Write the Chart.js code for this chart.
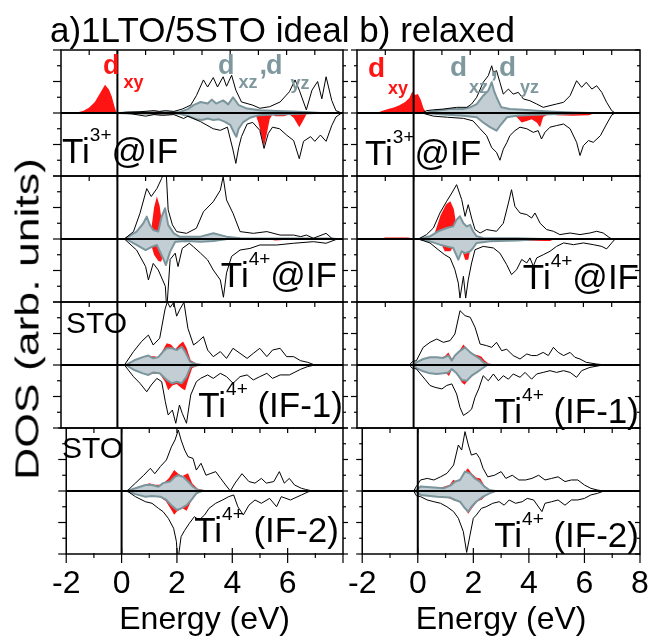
<!DOCTYPE html>
<html>
<head>
<meta charset="utf-8">
<script src="https://cdn.jsdelivr.net/npm/chart.js@4.4.1/dist/chart.umd.min.js"></script>
<style>
  body { margin: 0; background: #fff; }
  #fig { position: relative; width: 670px; height: 642px; overflow: hidden; font-family: "Liberation Sans", Arial, sans-serif; }
  #fig canvas { position: absolute; }
  .lbl { position: absolute; white-space: nowrap; line-height: 1; color: #000; }
  .sup { font-size: 19px; position: relative; top: -22px; }
  .sub { font-size: 18px; position: relative; top: 14px; }
  #ylab { position: absolute; left: 27px; top: 319px; font-size: 33px; line-height: 1; white-space: nowrap;
          transform: translate(-50%, -50%) rotate(-90deg) scaleX(1.35); }
</style>
</head>
<body>
<div id="fig"></div>
<script>
// energies in eV, DOS in arb. units (spin up > 0, spin down < 0)
// a) ideal, Ti3+ @IF
const a1TotUp = [[-2,0],[0,0],[0.3,0.05],[0.8,0.08],[1.3,0.15],[1.5,0.1],[1.7,0.15],[2.0,0.1],[2.3,0.25],[2.6,0.5],[2.8,1.1],[3.05,2.1],[3.2,1.65],[3.4,2.25],[3.55,1.65],[3.75,2.3],[3.87,1.7],[4.05,2.4],[4.2,1.45],[4.4,0.7],[4.8,0.5],[5.05,0.3],[5.4,0.4],[5.77,0.7],[6.1,1.35],[6.3,2.1],[6.45,1.45],[6.7,0.2],[6.9,1.45],[7.1,2.0],[7.25,0.9],[7.4,2.3],[7.6,0.8],[7.75,0.15],[7.95,0],[8,0]];
const a1TotDn = [[-2,0],[0,0],[0.5,-0.05],[1.0,-0.2],[1.3,-0.1],[1.6,-0.15],[2.0,-0.1],[2.35,-0.35],[2.5,-0.2],[2.95,-0.55],[3.4,-1.0],[3.65,-1.1],[3.9,-0.9],[4.1,-2.35],[4.2,-3.2],[4.3,-2.2],[4.4,-1.5],[4.6,-0.7],[4.8,-0.6],[5.05,-1.1],[5.2,-2.25],[5.35,-1.3],[5.5,-0.9],[5.75,-1.0],[6.0,-1.4],[6.25,-1.75],[6.45,-2.9],[6.6,-1.8],[6.85,-1.5],[7.0,-1.8],[7.2,-1.4],[7.4,-1.8],[7.6,-0.8],[7.75,-0.25],[7.95,0],[8,0]];
const a1XzUp = [[0,0],[0.5,0.03],[1.5,0.05],[2.2,0.05],[2.5,0.25],[2.7,0.5],[2.95,0.7],[3.2,0.6],[3.35,0.85],[3.5,0.6],[3.75,0.8],[3.93,0.55],[4.1,1.0],[4.3,0.5],[4.6,0.28],[5.05,0.17],[5.65,0.13],[6.25,0.1],[6.8,0.05],[7.2,0]];
const a1XzDn = [[0,0],[0.5,-0.03],[1.5,-0.05],[2.2,-0.05],[2.5,-0.2],[2.8,-0.4],[3.0,-0.45],[3.2,-0.35],[3.4,-0.45],[3.6,-0.4],[3.8,-0.55],[4.0,-0.75],[4.15,-1.3],[4.22,-1.5],[4.3,-1.0],[4.45,-0.6],[4.7,-0.3],[5.0,-0.15],[5.6,-0.1],[6.5,-0.05],[7.0,0]];
const a1XyUp = [[-1.7,0],[-1.4,0.05],[-1.2,0.15],[-1.0,0.35],[-0.8,0.7],[-0.6,1.3],[-0.44,1.8],[-0.3,1.5],[-0.2,1.05],[-0.1,0.4],[-0.03,0],[1.2,0],[1.35,0.1],[1.5,0.12],[1.65,0.05],[1.8,0]];
const a1XyDn = [[1.0,0],[1.2,-0.08],[1.6,-0.1],[1.9,0],[4.8,0],[4.9,-0.1],[5.0,-0.6],[5.1,-1.4],[5.2,-2.15],[5.3,-1.3],[5.4,-0.4],[5.5,-0.1],[5.6,-0.2],[5.9,-0.2],[6.1,-0.1],[6.25,-0.3],[6.35,-0.6],[6.45,-0.9],[6.55,-0.6],[6.7,-0.1],[6.8,0]];

// a) ideal, Ti4+ @IF
const a2TotUp = [[-2,0],[0.25,0],[0.57,0.47],[0.8,1.63],[1.04,3.2],[1.2,2.7],[1.4,3.2],[1.57,3.85],[1.72,4.6],[1.8,1.85],[1.95,0.9],[2.1,0.47],[2.45,0.36],[2.8,0.68],[3.05,1.73],[3.4,2.37],[3.65,3.1],[3.75,3.96],[3.87,2.48],[4.1,1.63],[4.35,0.47],[4.82,0.36],[5.3,0.47],[5.77,0.25],[6.25,0.25],[6.5,0.15],[6.7,0.25],[6.95,0.05],[7.4,0.36],[7.6,0.05],[7.8,0],[8,0]];
const a2TotDn = [[-2,0],[0.25,0],[0.68,-0.7],[1.0,-1.75],[1.1,-2.6],[1.27,-1.55],[1.45,-1.97],[1.7,-3.0],[1.75,-4.5],[1.87,-1.3],[2.05,-0.9],[2.15,-1.75],[2.3,-0.6],[2.55,-0.27],[2.7,-0.5],[2.95,-0.9],[3.2,-1.33],[3.4,-1.97],[3.65,-2.6],[3.76,-3.7],[3.87,-2.15],[4.05,-1.1],[4.35,-0.7],[4.7,-0.6],[5.05,-0.38],[5.65,-0.38],[6.25,-0.27],[6.95,-0.17],[7.4,-0.27],[7.8,0],[8,0]];
const a2XzUp = [[0.25,0],[0.68,0.47],[0.92,1.0],[1.04,1.42],[1.15,0.9],[1.27,0.57],[1.45,0.47],[1.57,1.42],[1.69,1.95],[1.8,0.9],[2.0,0.36],[2.2,0.15],[2.95,0.15],[3.4,0.36],[3.87,0.15],[4.35,0.05],[6.0,0.03],[7.5,0.03],[7.8,0]];
const a2XzDn = [[0.3,0],[0.68,-0.38],[1.0,-0.7],[1.22,-0.5],[1.4,-0.38],[1.62,-1.23],[1.72,-1.65],[1.87,-0.8],[2.05,-0.17],[2.45,-0.12],[2.95,-0.17],[3.4,-0.12],[3.9,0]];
const a2XyUp = [[-1.2,0],[-1.0,0.05],[-0.5,0.05],[-0.3,0],[1.1,0],[1.2,0.6],[1.3,2.0],[1.4,2.7],[1.5,2.1],[1.58,1.0],[1.7,0.3],[1.9,0]];
const a2XyDn = [[1.1,0],[1.2,-0.4],[1.3,-1.0],[1.45,-1.4],[1.55,-1.45],[1.65,-0.9],[1.75,-0.3],[1.9,0],[2.2,-0.1],[2.4,-0.2],[2.6,-0.1],[2.9,0],[5.3,0],[5.6,-0.1],[6.0,-0.05],[6.3,0]];

// a) ideal, Ti4+ (IF-1)
const a3TotUp = [[-2,0],[0.25,0],[0.57,0.85],[0.86,1.5],[1.1,1.9],[1.27,1.27],[1.5,1.7],[1.69,3.55],[1.77,4.0],[1.87,3.66],[2.0,3.98],[2.1,3.1],[2.22,3.55],[2.36,3.98],[2.5,2.33],[2.7,1.27],[2.87,1.5],[3.05,1.8],[3.2,0.95],[3.4,0.53],[3.65,0.85],[3.87,0.42],[4.1,1.06],[4.35,0.74],[4.6,0.42],[4.82,0.74],[5.05,1.06],[5.3,0.53],[5.5,0.95],[5.77,1.06],[6.0,0.53],[6.25,0.53],[6.5,0.27],[6.75,0.17],[7.0,0],[8,0]];
const a3TotDn = [[-2,0],[0.25,0],[0.57,-0.74],[0.8,-1.16],[1.04,-1.7],[1.2,-1.27],[1.4,-0.85],[1.57,-1.06],[1.7,-2.33],[1.8,-3.17],[1.95,-2.86],[2.07,-3.7],[2.2,-2.54],[2.3,-3.07],[2.45,-3.7],[2.6,-1.9],[2.8,-1.06],[2.95,-0.85],[3.2,-0.63],[3.4,-0.85],[3.65,-0.53],[3.87,-0.74],[4.1,-1.16],[4.35,-0.74],[4.6,-0.63],[4.82,-0.95],[5.05,-0.74],[5.3,-0.53],[5.5,-0.85],[5.77,-0.63],[6.1,-0.63],[6.5,-0.27],[6.75,-0.1],[7.0,0],[8,0]];
const a3XzUp = [[0.3,0],[0.6,0.3],[0.9,0.5],[1.1,0.6],[1.27,0.42],[1.45,0.5],[1.62,0.85],[1.75,1.06],[1.93,1.06],[2.1,0.95],[2.28,1.16],[2.4,0.85],[2.58,0.2],[2.8,0.05],[3.0,0]];
const a3XzDn = [[0.3,0],[0.6,-0.32],[0.9,-0.53],[1.1,-0.63],[1.27,-0.47],[1.5,-0.53],[1.75,-0.95],[1.93,-1.16],[2.1,-1.06],[2.28,-1.16],[2.45,-0.74],[2.6,-0.1],[2.9,0]];
const a3XyUp = [[0.3,0],[0.6,0.25],[0.9,0.45],[1.1,0.55],[1.3,0.55],[1.45,0.5],[1.6,0.9],[1.75,1.38],[1.9,1.3],[2.05,1.0],[2.2,1.3],[2.33,1.5],[2.45,1.1],[2.6,0.3],[2.8,0.1],[3.0,0.05],[3.3,0],[4.5,0],[5.0,0.05],[6.5,0.05],[6.8,0]];
const a3XyDn = [[0.3,0],[0.6,-0.3],[0.9,-0.5],[1.1,-0.6],[1.27,-0.55],[1.5,-0.55],[1.7,-1.1],[1.8,-1.6],[1.95,-1.3],[2.1,-1.2],[2.3,-1.5],[2.4,-1.6],[2.5,-1.0],[2.65,-0.2],[2.9,0]];

// a) ideal, Ti4+ (IF-2)
const a4TotUp = [[-2,0],[0.2,0],[0.5,0.5],[0.8,1.0],[1.04,1.44],[1.2,1.1],[1.4,1.55],[1.62,1.97],[1.8,2.8],[1.93,3.24],[2.05,3.87],[2.15,3.24],[2.28,2.6],[2.4,2.18],[2.58,2.07],[2.7,1.33],[2.87,1.76],[3.05,1.0],[3.2,1.1],[3.4,1.23],[3.58,0.8],[3.76,0.38],[3.93,0],[4.1,0.5],[4.35,1.1],[4.6,0.6],[4.82,0.5],[5.05,0.8],[5.23,0.5],[5.5,0.6],[5.7,1.23],[5.88,0.5],[6.06,0.8],[6.25,0.38],[6.5,0.17],[6.65,0.1],[6.9,0],[8,0]];
const a4TotDn = [[-2,0],[0.2,0],[0.5,-0.36],[0.86,-0.68],[1.1,-0.78],[1.33,-1.1],[1.5,-1.31],[1.69,-1.74],[1.88,-2.37],[1.98,-3.2],[2.03,-4.5],[2.15,-2.9],[2.28,-2.5],[2.45,-2.05],[2.63,-1.63],[2.8,-1.84],[3.0,-1.52],[3.16,-1.1],[3.4,-0.78],[3.65,-0.57],[3.87,-0.36],[4.05,-0.25],[4.2,-1.0],[4.4,-1.52],[4.6,-0.9],[4.82,-0.57],[5.05,-0.78],[5.35,-0.47],[5.6,-1.0],[5.77,-0.36],[6.1,-0.57],[6.5,-0.25],[6.75,-0.05],[6.9,0],[8,0]];
const a4XzUp = [[0.2,0],[0.5,0.17],[0.86,0.38],[1.1,0.38],[1.33,0.27],[1.5,0.5],[1.75,0.6],[1.93,0.9],[2.05,1.0],[2.22,0.9],[2.4,0.6],[2.58,0.27],[2.76,0.06],[3.0,0]];
const a4XzDn = [[0.2,0],[0.5,-0.2],[0.86,-0.36],[1.1,-0.32],[1.4,-0.36],[1.62,-0.57],[1.8,-0.9],[2.0,-1.2],[2.15,-1.1],[2.35,-0.9],[2.52,-0.57],[2.7,-0.15],[2.9,0]];
const a4XyUp = [[0.2,0],[0.5,0.15],[0.8,0.35],[1.0,0.5],[1.2,0.4],[1.45,0.4],[1.7,0.8],[1.9,1.33],[2.05,1.1],[2.2,0.95],[2.4,1.12],[2.55,0.5],[2.75,0.15],[3.0,0.05],[3.3,0]];
const a4XyDn = [[0.2,0],[0.5,-0.2],[0.8,-0.35],[1.1,-0.35],[1.4,-0.4],[1.6,-0.65],[1.8,-1.2],[1.9,-1.5],[2.0,-1.3],[2.2,-1.1],[2.35,-1.25],[2.5,-0.7],[2.7,-0.2],[2.9,0]];

// b) relaxed, Ti3+ @IF
const b1TotUp = [[-2,0],[0.3,0],[0.46,0.15],[0.7,0.2],[1.05,0.25],[1.52,0.36],[1.88,0.36],[2.05,0.57],[2.23,1.0],[2.46,1.95],[2.64,2.37],[2.76,3.0],[2.82,2.58],[2.93,2.69],[3.05,1.95],[3.17,1.2],[3.35,1.52],[3.52,1.2],[3.7,1.31],[3.88,0.89],[4.11,0.78],[4.35,0.57],[4.58,0.36],[4.82,0.47],[5.05,0.57],[5.3,0.68],[5.53,1.1],[5.76,2.05],[5.94,1.63],[6.1,1.95],[6.3,1.52],[6.47,1.73],[6.65,1.31],[6.82,0.68],[7.0,0.15],[7.12,0],[8,0]];
const b1TotDn = [[-2,0],[0.3,0],[0.7,-0.2],[1.2,-0.27],[1.76,-0.34],[2.1,-0.5],[2.35,-1.0],[2.58,-1.44],[2.76,-2.2],[2.93,-2.5],[3.05,-3.0],[3.17,-2.3],[3.3,-1.86],[3.4,-1.44],[3.58,-1.12],[3.76,-0.9],[4.0,-1.0],[4.23,-1.23],[4.4,-1.12],[4.52,-1.65],[4.64,-1.23],[4.82,-0.9],[5.05,-0.8],[5.3,-0.7],[5.53,-1.0],[5.76,-1.86],[5.88,-2.7],[6.0,-2.07],[6.18,-1.75],[6.35,-1.86],[6.6,-1.44],[6.82,-0.7],[7.0,-0.13],[7.12,0],[8,0]];
const b1XzUp = [[0.4,0],[0.8,0.15],[1.3,0.25],[1.76,0.25],[2.0,0.36],[2.23,0.57],[2.46,1.1],[2.64,1.42],[2.76,1.95],[2.84,1.42],[2.93,1.0],[3.1,0.36],[3.4,0.25],[3.88,0.2],[4.35,0.15],[4.8,0.1],[5.4,0.05],[6.2,0]];
const b1XzDn = [[0.4,0],[1.05,-0.1],[1.76,-0.17],[2.23,-0.27],[2.46,-0.6],[2.7,-0.9],[2.93,-1.12],[3.1,-0.7],[3.3,-0.27],[3.64,-0.17],[4.11,-0.13],[4.82,-0.08],[6.0,0]];
const b1XyUp = [[-1.3,0],[-1.1,0.15],[-0.9,0.25],[-0.7,0.35],[-0.5,0.5],[-0.3,0.7],[-0.15,0.95],[-0.05,1.35],[0.05,1.15],[0.15,1.2],[0.25,0.85],[0.35,0.3],[0.45,0],[1.0,0],[1.1,0.2],[1.3,0.22],[1.5,0.25],[1.65,0.1],[1.8,0]];
const b1XyDn = [[1.0,0],[1.1,-0.12],[1.6,-0.12],[1.8,0],[3.5,0],[3.64,-0.25],[3.82,-0.6],[4.0,-0.5],[4.17,-0.4],[4.35,-0.6],[4.47,-0.9],[4.58,-0.25],[4.8,-0.05],[5.05,-0.15],[5.6,-0.18],[6.2,-0.15],[6.4,0]];

// b) relaxed, Ti4+ @IF
const b2TotUp = [[-2,0],[0.17,0],[0.46,0.28],[0.7,0.7],[0.93,1.65],[1.17,2.4],[1.35,2.92],[1.52,3.45],[1.7,2.5],[1.82,1.44],[1.93,2.18],[2.05,1.33],[2.17,0.6],[2.35,0.38],[2.58,0.6],[2.93,0.49],[3.17,1.0],[3.35,2.28],[3.46,3.13],[3.58,2.07],[3.76,1.65],[4.0,1.55],[4.17,1.33],[4.29,1.65],[4.47,1.0],[4.7,0.6],[4.94,0.49],[5.17,0.28],[5.53,0.38],[5.88,0.28],[6.23,0.38],[6.47,0.49],[6.7,0.38],[6.94,0.06],[7.05,0],[8,0]];
const b2TotDn = [[-2,0],[0.17,0],[0.58,-0.25],[0.87,-0.68],[1.1,-1.0],[1.29,-1.2],[1.46,-1.95],[1.58,-2.8],[1.64,-3.75],[1.76,-2.37],[1.84,-3.75],[1.93,-2.6],[2.05,-1.52],[2.17,-0.68],[2.46,-0.47],[2.82,-0.57],[3.05,-0.9],[3.29,-1.63],[3.46,-2.26],[3.64,-1.95],[3.82,-1.3],[4.0,-1.52],[4.11,-1.2],[4.23,-1.73],[4.35,-1.2],[4.58,-1.0],[4.82,-0.78],[5.05,-0.47],[5.3,-0.25],[5.65,-0.36],[6.0,-0.25],[6.35,-0.36],[6.65,-0.47],[6.82,-0.63],[7.0,-0.25],[7.12,0],[8,0]];
const b2XzUp = [[0.2,0],[0.58,0.17],[0.87,0.49],[1.17,0.7],[1.4,0.8],[1.52,1.23],[1.64,1.44],[1.76,1.0],[1.88,0.8],[2.0,0.9],[2.1,0.49],[2.23,0.17],[2.46,0.06],[3.64,0.04],[4.6,0]];
const b2XzDn = [[0.2,0],[0.58,-0.15],[0.93,-0.36],[1.17,-0.47],[1.4,-0.57],[1.58,-1.31],[1.7,-0.78],[1.82,-0.9],[2.0,-0.78],[2.1,-0.57],[2.23,-0.25],[2.7,-0.15],[3.64,-0.1],[4.6,0]];
const b2XyUp = [[-1.2,0],[-1.0,0.1],[-0.2,0.1],[0.05,0.02],[0.5,0.1],[0.75,0.4],[0.95,1.5],[1.15,2.2],[1.3,2.4],[1.42,1.9],[1.5,1.0],[1.6,0.4],[1.8,0.2],[2.0,0]];
const b2XyDn = [[0.8,0],[1.0,-0.4],[1.1,-0.78],[1.3,-0.78],[1.4,-0.5],[1.7,-0.6],[1.82,-1.31],[1.93,-1.31],[2.0,-0.7],[2.2,-0.2],[2.35,-0.12],[4.82,-0.12],[5.0,0]];

// b) relaxed, Ti4+ (IF-1)
const b3TotUp = [[-2,0],[-0.15,0],[-0.05,0.2],[0.1,0.28],[0.34,1.12],[0.58,1.44],[0.82,1.65],[1.05,1.44],[1.29,1.55],[1.46,1.97],[1.64,3.45],[1.82,3.13],[2.0,3.03],[2.17,2.4],[2.35,1.33],[2.58,1.23],[2.76,1.12],[2.93,1.44],[3.11,0.91],[3.29,1.0],[3.52,0.6],[3.76,0.38],[4.0,0.7],[4.17,0.6],[4.35,0.6],[4.58,0.8],[4.76,0.6],[4.94,1.12],[5.11,0.8],[5.3,0.6],[5.53,0.8],[5.7,0.49],[5.88,0.38],[6.1,0.17],[6.47,0.06],[6.82,0],[8,0]];
const b3TotDn = [[-2,0],[-0.15,0],[-0.05,-0.2],[0.1,-0.25],[0.4,-0.9],[0.58,-1.3],[0.76,-1.42],[1.0,-1.52],[1.17,-1.3],[1.35,-1.2],[1.52,-1.84],[1.64,-2.7],[1.76,-3.2],[1.93,-3.0],[2.05,-2.8],[2.17,-2.05],[2.3,-1.52],[2.46,-0.68],[2.64,-1.0],[2.82,-0.57],[3.0,-1.0],[3.17,-0.68],[3.35,-0.9],[3.52,-0.57],[3.76,-0.78],[3.94,-0.47],[4.17,-0.9],[4.35,-0.57],[4.58,-0.47],[4.82,-0.36],[5.05,-0.47],[5.3,-0.36],[5.53,-0.47],[5.76,-0.78],[5.94,-0.36],[6.23,-0.15],[6.7,0],[8,0]];
const b3XzUp = [[0.0,0],[0.1,0.17],[0.34,0.38],[0.58,0.49],[0.82,0.49],[1.05,0.45],[1.23,0.6],[1.35,0.28],[1.46,0.6],[1.64,0.9],[1.82,1.12],[2.0,0.8],[2.17,0.6],[2.35,0.38],[2.46,0.17],[2.6,0.05],[2.8,0]];
const b3XzDn = [[0.0,0],[0.1,-0.2],[0.34,-0.4],[0.58,-0.53],[0.82,-0.57],[1.05,-0.53],[1.23,-0.47],[1.35,-0.25],[1.52,-0.53],[1.7,-0.95],[1.88,-1.0],[2.05,-0.68],[2.23,-0.47],[2.4,-0.25],[2.6,0]];
const b3XyUp = [[0.0,0],[0.1,0.1],[0.5,0.4],[0.9,0.45],[1.1,0.55],[1.23,0.8],[1.35,0.4],[1.5,0.6],[1.65,1.0],[1.76,1.3],[1.9,1.0],[2.1,0.7],[2.3,0.6],[2.4,0.53],[2.5,0.3],[2.65,0.1],[2.8,0]];
const b3XyDn = [[0.0,0],[0.1,-0.1],[0.5,-0.4],[0.9,-0.5],[1.1,-0.45],[1.25,-0.7],[1.35,-0.3],[1.5,-0.5],[1.7,-1.1],[1.8,-1.25],[1.95,-0.9],[2.2,-0.5],[2.45,-0.15],[2.6,0]];

// b) relaxed, Ti4+ (IF-2)
const b4TotUp = [[-2,0],[-0.15,0],[-0.05,0.3],[0.1,0.7],[0.34,0.8],[0.58,0.7],[0.82,0.9],[1.05,1.12],[1.29,1.65],[1.46,2.92],[1.58,2.6],[1.7,3.77],[1.82,2.92],[1.93,2.28],[2.11,2.39],[2.23,2.07],[2.35,1.44],[2.52,0.9],[2.76,1.0],[3.0,1.23],[3.17,0.8],[3.4,1.0],[3.64,0.7],[3.88,0.7],[4.11,0.8],[4.35,1.0],[4.58,0.7],[4.82,0.8],[5.05,0.9],[5.3,0.6],[5.53,0.7],[5.76,0.7],[6.0,0.38],[6.23,0.17],[6.47,0.06],[6.7,0],[8,0]];
const b4TotDn = [[-2,0],[-0.15,0],[-0.05,-0.3],[0.1,-0.36],[0.34,-0.57],[0.58,-0.68],[0.82,-0.78],[1.05,-1.0],[1.29,-1.31],[1.46,-1.73],[1.64,-2.58],[1.76,-3.9],[1.88,-2.8],[2.0,-1.73],[2.11,-1.52],[2.29,-1.1],[2.46,-1.0],[2.7,-0.78],[2.93,-0.68],[3.11,-0.9],[3.29,-0.57],[3.52,-0.78],[3.76,-0.68],[3.94,-0.47],[4.17,-0.57],[4.47,-1.31],[4.58,-0.78],[4.82,-0.68],[5.05,-0.57],[5.3,-0.9],[5.53,-0.57],[5.76,-0.57],[6.0,-0.47],[6.23,-0.25],[6.47,-0.15],[6.7,0],[8,0]];
const b4XzUp = [[-0.1,0],[0.1,0.28],[0.58,0.22],[0.93,0.17],[1.17,0.34],[1.35,0.6],[1.52,0.7],[1.7,1.23],[1.88,1.12],[2.05,0.8],[2.23,0.6],[2.4,0.28],[2.58,0.06],[2.8,0]];
const b4XzDn = [[-0.1,0],[0.1,-0.25],[0.7,-0.36],[1.17,-0.42],[1.35,-0.57],[1.52,-0.68],[1.7,-1.1],[1.82,-1.31],[1.93,-1.0],[2.1,-0.68],[2.35,-0.36],[2.58,-0.15],[2.8,0]];
const b4XyUp = [[-0.1,0],[0.1,0.2],[0.5,0.2],[0.9,0.25],[1.15,0.4],[1.28,0.72],[1.38,0.6],[1.55,0.8],[1.7,1.2],[1.8,1.45],[1.95,1.1],[2.1,0.85],[2.25,0.8],[2.4,0.35],[2.6,0.05],[2.8,0]];
const b4XyDn = [[-0.1,0],[0.1,-0.25],[0.5,-0.35],[1.0,-0.4],[1.2,-0.5],[1.3,-0.6],[1.5,-0.65],[1.7,-1.15],[1.82,-1.45],[1.95,-1.1],[2.15,-0.65],[2.3,-0.55],[2.5,-0.2],[2.7,0]];

const energyTicks = [-2, 0, 2, 4, 6, 8];

const RED = "#ff1414";
const GRAY_FILL = "#c3ced4";
const GRAY_LINE = "#7b959c";
const GRAY_TEXT = "#7f989e";

const COLS = [{ left: 61, width: 282 }, { left: 357, width: 283 }];
const ROW_TOPS = [50, 176, 302, 428];
const ROW_H = 126;
const M = 20;
const AXIS_H = 85;

const panels = [
  [a1TotUp, a1TotDn, a1XzUp, a1XzDn, a1XyUp, a1XyDn],
  [a2TotUp, a2TotDn, a2XzUp, a2XzDn, a2XyUp, a2XyDn],
  [a3TotUp, a3TotDn, a3XzUp, a3XzDn, a3XyUp, a3XyDn],
  [a4TotUp, a4TotDn, a4XzUp, a4XzDn, a4XyUp, a4XyDn],
  [b1TotUp, b1TotDn, b1XzUp, b1XzDn, b1XyUp, b1XyDn],
  [b2TotUp, b2TotDn, b2XzUp, b2XzDn, b2XyUp, b2XyDn],
  [b3TotUp, b3TotDn, b3XzUp, b3XzDn, b3XyUp, b3XyDn],
  [b4TotUp, b4TotDn, b4XzUp, b4XzDn, b4XyUp, b4XyDn],
];

const toPoints = (pairs) => pairs.map(([x, y]) => ({ x, y }));

function strokeLine(ctx, x1, y1, x2, y2) {
  ctx.beginPath();
  ctx.moveTo(x1, y1);
  ctx.lineTo(x2, y2);
  ctx.stroke();
}

// frame, zero line, Fermi line and the tick marks of each panel
const framePlugin = {
  id: "frame",
  afterDraw(chart, args, opts) {
    const { ctx, chartArea: a } = chart;
    const x = chart.scales.x;
    const y = chart.scales.y;
    ctx.save();
    ctx.strokeStyle = "#000";
    ctx.lineCap = "butt";

    ctx.lineWidth = 2;
    const y0 = y.getPixelForValue(0);
    strokeLine(ctx, a.left, y0, a.right, y0);
    const xF = x.getPixelForValue(0);
    strokeLine(ctx, xF, a.top, xF, a.bottom);

    ctx.lineWidth = 1.5;
    ctx.strokeRect(a.left, a.top, a.right - a.left, a.bottom - a.top);

    ctx.lineWidth = 1.2;
    for (let e = -1; e <= 7; e += 1) {
      const px = x.getPixelForValue(e);
      strokeLine(ctx, px, a.top, px, a.top + 5);
      if (opts.bottom) {
        if (e % 2 === 0) strokeLine(ctx, px, a.bottom - 6, px, a.bottom + 9);
        else strokeLine(ctx, px, a.bottom - 1, px, a.bottom + 4);
      }
    }
    if (opts.bottom) {
      for (const e of [-2, 8]) {
        const px = x.getPixelForValue(e);
        strokeLine(ctx, px, a.bottom, px, a.bottom + 9);
      }
    }

    for (let v = -4; v <= 4; v += 1) {
      const py = y.getPixelForValue(v);
      const major = v % 2 === 0;
      if (opts.col === 0) {
        strokeLine(ctx, a.left - (major ? 8 : 4), py, a.left, py);
        strokeLine(ctx, a.right, py, a.right + (major ? 5 : 3), py);
      } else {
        strokeLine(ctx, a.left - (major ? 6 : 3), py, a.left, py);
        strokeLine(ctx, a.right - (major ? 5 : 3), py, a.right, py);
      }
    }
    ctx.restore();
  },
};

const fig = document.getElementById("fig");

function makePanel(col, row, series) {
  const [totUp, totDn, xzUp, xzDn, xyUp, xyDn] = series;
  const c = COLS[col];
  const bottom = row === 3;
  const canvas = document.createElement("canvas");
  canvas.width = c.width + 2 * M;
  canvas.height = ROW_H + M + (bottom ? AXIS_H : M);
  canvas.style.left = c.left - M + "px";
  canvas.style.top = ROW_TOPS[row] - M + "px";
  fig.appendChild(canvas);

  const redSet = (d) => ({ data: toPoints(d), borderWidth: 0, backgroundColor: RED, fill: "origin", order: 3 });
  const graySet = (d) => ({ data: toPoints(d), borderWidth: 2, borderColor: GRAY_LINE, backgroundColor: GRAY_FILL, fill: "origin", order: 2 });
  const totSet = (d) => ({ data: toPoints(d), borderWidth: 1, borderColor: "#000", fill: false, order: 1 });

  new Chart(canvas, {
    type: "line",
    data: {
      datasets: [totSet(totUp), totSet(totDn), graySet(xzUp), graySet(xzDn), redSet(xyUp), redSet(xyDn)],
    },
    options: {
      responsive: false,
      animation: false,
      devicePixelRatio: 1,
      events: [],
      layout: { padding: { left: M, right: M, top: M, bottom: bottom ? 0 : M } },
      elements: {
        point: { radius: 0 },
        line: { tension: 0, borderJoinStyle: "round" },
      },
      plugins: {
        legend: { display: false },
        tooltip: { enabled: false },
        frame: { col, bottom },
      },
      scales: {
        x: {
          type: "linear",
          min: -2,
          max: 8,
          display: bottom,
          afterFit: (s) => { if (bottom) s.height = AXIS_H; },
          afterBuildTicks: (s) => { s.ticks = energyTicks.map((v) => ({ value: v })); },
          grid: { display: false, drawTicks: false },
          border: { display: false },
          ticks: {
            padding: 11,
            color: "#000",
            maxRotation: 0,
            autoSkip: false,
            font: { family: "Liberation Sans", size: 32 },
            callback: (v) => (col === 0 && v === 8 ? "" : String(v)),
          },
          title: {
            display: true,
            text: "Energy (eV)",
            color: "#000",
            padding: 0,
            font: { family: "Liberation Sans", size: 32 },
          },
        },
        y: {
          type: "linear",
          min: -4,
          max: 4,
          display: false,
        },
      },
    },
    plugins: [framePlugin],
  });
}

panels.forEach((series, i) => makePanel(Math.floor(i / 4), i % 4, series));

function addLabel(html, pos) {
  const d = document.createElement("div");
  d.className = "lbl";
  d.style.fontSize = pos.size + "px";
  d.style.top = pos.base - 0.8465 * pos.size + "px";
  if (pos.right !== undefined) d.style.right = 670 - pos.right + "px";
  else d.style.left = pos.left + "px";
  if (pos.color) d.style.color = pos.color;
  if (pos.bold) d.style.fontWeight = "bold";
  d.innerHTML = html;
  fig.appendChild(d);
}

addLabel("a)1LTO/5STO ideal b) relaxed", { left: 50, base: 42, size: 35 });

const ti3 = 'Ti<span class="sup">3+</span>@IF';
const ti4 = 'Ti<span class="sup">4+</span>@IF';
addLabel(ti3, { left: 62, base: 163, size: 35 });
addLabel(ti3, { left: 365, base: 165, size: 35 });
addLabel(ti4, { right: 337, base: 287, size: 35 });
addLabel(ti4, { right: 639, base: 289, size: 35 });
addLabel("STO", { left: 66, base: 333, size: 30 });
addLabel("STO", { left: 62, base: 458, size: 30 });
addLabel('Ti<span class="sup">4+</span> (IF-1)', { right: 343, base: 417, size: 35 });
addLabel('Ti<span class="sup">4+</span> (IF-1)', { right: 639, base: 423, size: 35 });
addLabel('Ti<span class="sup">4+</span> (IF-2)', { right: 339, base: 542, size: 35 });
addLabel('Ti<span class="sup">4+</span> (IF-2)', { right: 639, base: 547, size: 35 });

addLabel('d<span class="sub" style="margin-left:4px">xy</span>', { left: 103, base: 75, size: 27, bold: true, color: RED });
addLabel('d<span class="sub" style="margin-left:4px">xz</span><span style="margin-left:2px">,</span><span style="margin-left:-1px">d</span><span class="sub" style="margin-left:8px;top:15px">yz</span>',
  { left: 218, base: 75, size: 27, bold: true, color: GRAY_TEXT });
addLabel('d<span class="sub" style="margin-left:3px;top:17px">xy</span>', { left: 368, base: 78, size: 28, bold: true, color: RED });
addLabel('d<span class="sub" style="margin-left:2px;top:17px">xz</span><span style="margin-left:2px">,</span><span style="margin-left:1px">d</span><span class="sub" style="margin-left:4px;top:17px">yz</span>',
  { left: 450, base: 77, size: 28, bold: true, color: GRAY_TEXT });

const ylab = document.createElement("div");
ylab.id = "ylab";
ylab.textContent = "DOS (arb. units)";
fig.appendChild(ylab);
</script>
</body>
</html>
